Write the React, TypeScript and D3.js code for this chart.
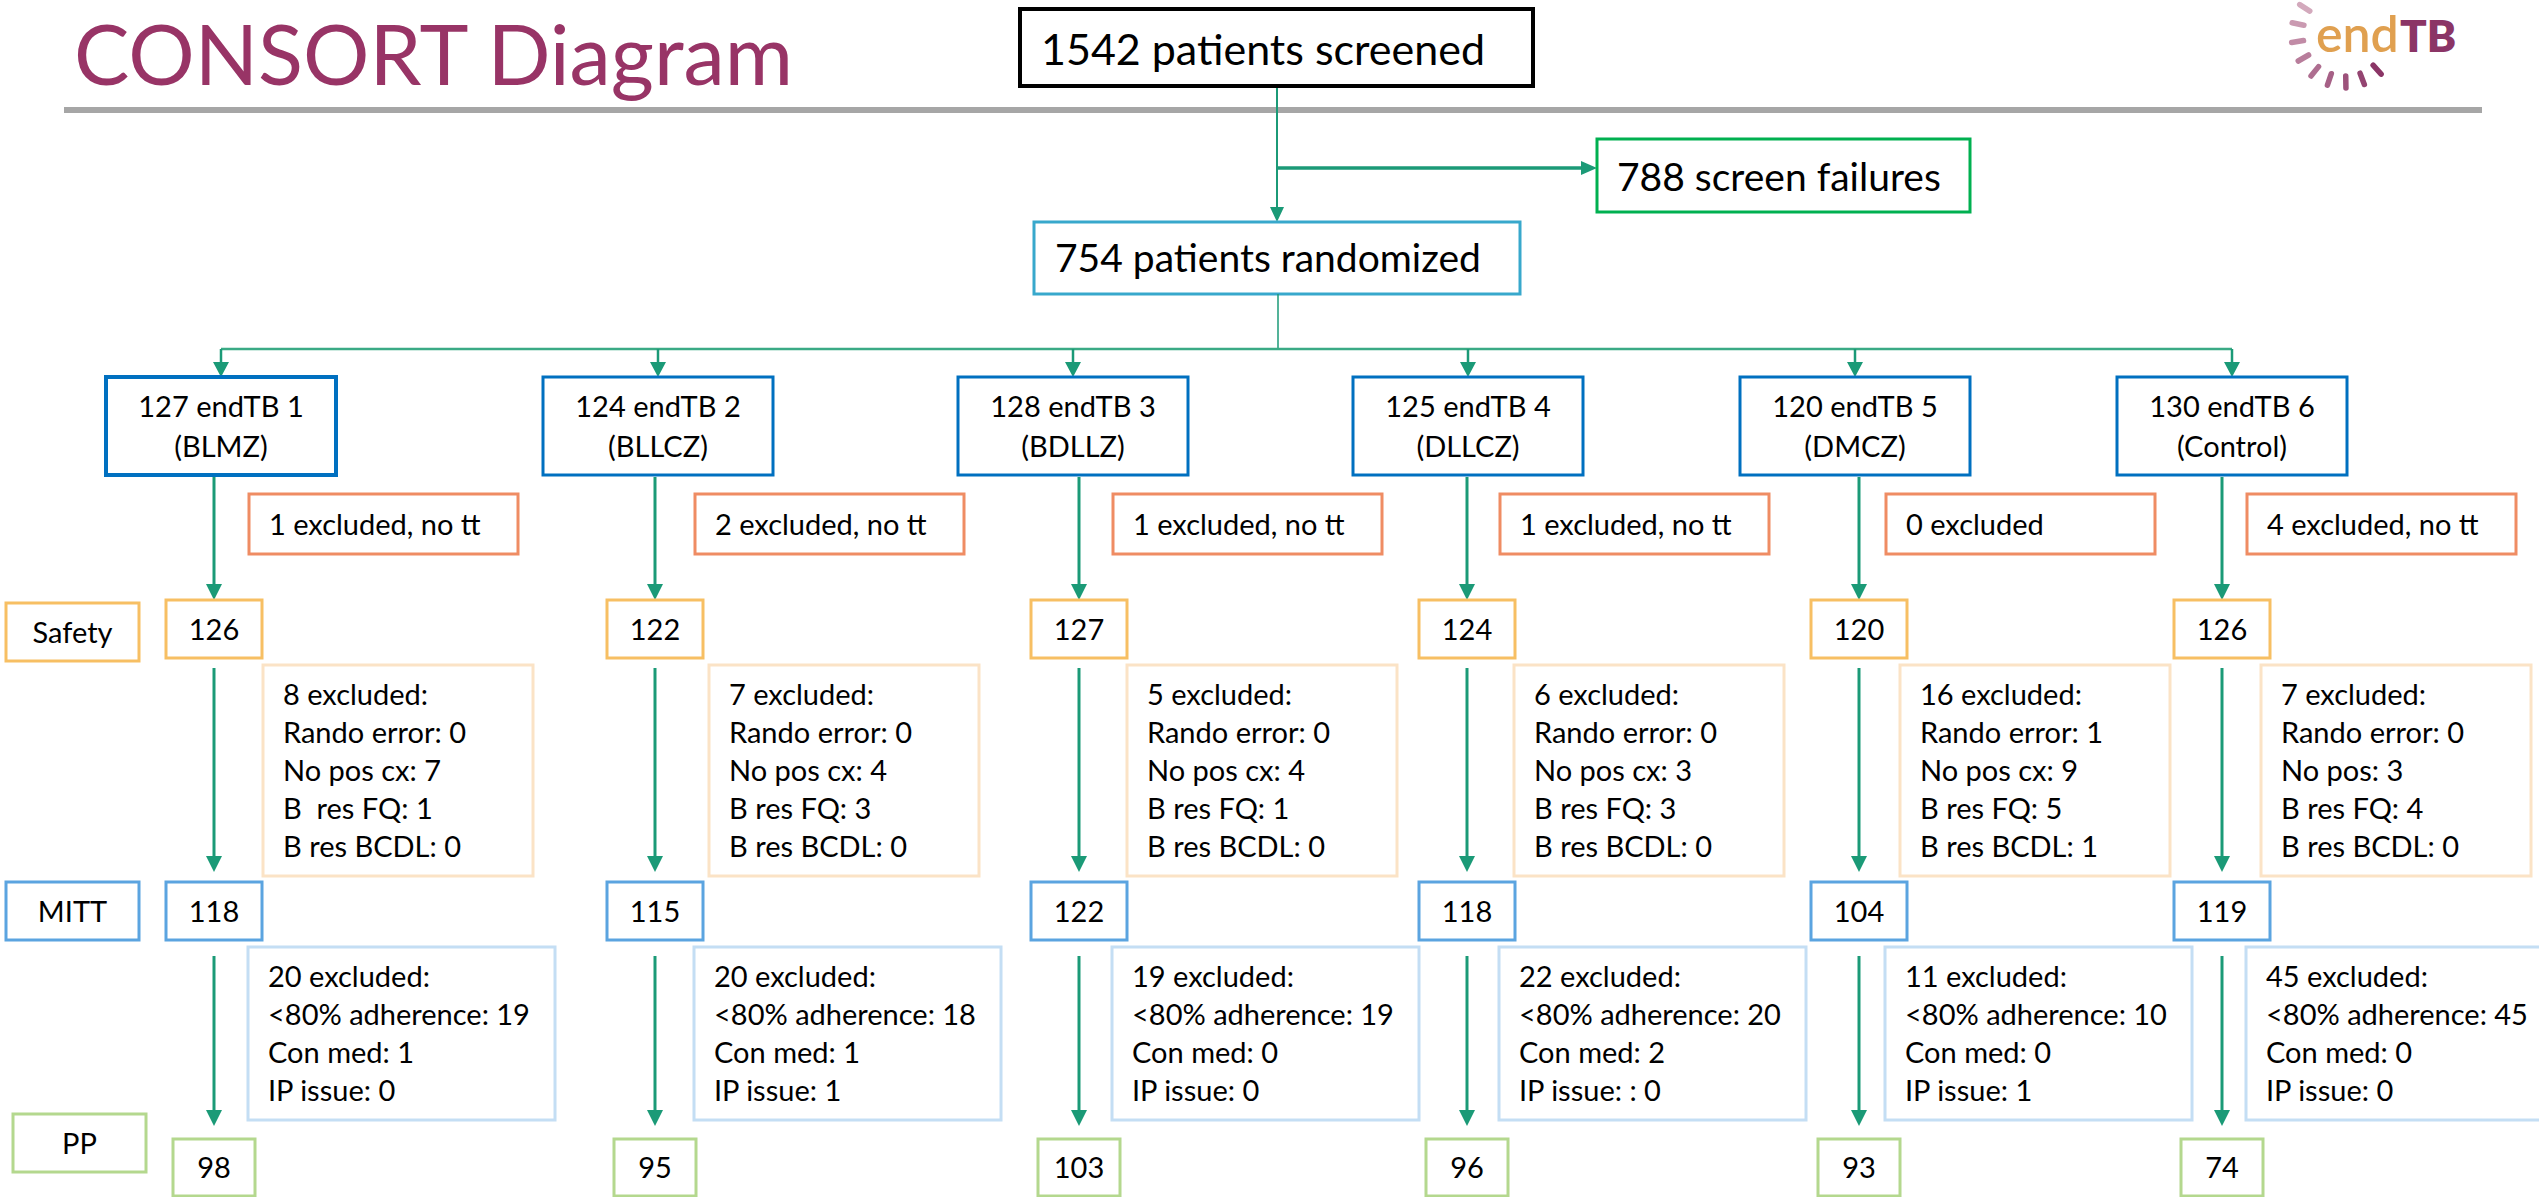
import * as d3 from "d3";
import React from "react";

// ---- data ----
const arms = ["127 endTB 1", "124 endTB 2", "128 endTB 3", "125 endTB 4", "120 endTB 5", "130 endTB 6"];
const regimens = ["(BLMZ)", "(BLLCZ)", "(BDLLZ)", "(DLLCZ)", "(DMCZ)", "(Control)"];
const notTreated = [
  "1 excluded, no tt",
  "2 excluded, no tt",
  "1 excluded, no tt",
  "1 excluded, no tt",
  "0 excluded",
  "4 excluded, no tt",
];
const safetyN = [126, 122, 127, 124, 120, 126];
const safetyExcluded = [
  ["8 excluded:", "Rando error: 0", "No pos cx: 7", "B  res FQ: 1", "B res BCDL: 0"],
  ["7 excluded:", "Rando error: 0", "No pos cx: 4", "B res FQ: 3", "B res BCDL: 0"],
  ["5 excluded:", "Rando error: 0", "No pos cx: 4", "B res FQ: 1", "B res BCDL: 0"],
  ["6 excluded:", "Rando error: 0", "No pos cx: 3", "B res FQ: 3", "B res BCDL: 0"],
  ["16 excluded:", "Rando error: 1", "No pos cx: 9", "B res FQ: 5", "B res BCDL: 1"],
  ["7 excluded:", "Rando error: 0", "No pos: 3", "B res FQ: 4", "B res BCDL: 0"],
];
const mittN = [118, 115, 122, 118, 104, 119];
const mittExcluded = [
  ["20 excluded:", "<80% adherence: 19", "Con med: 1", "IP issue: 0"],
  ["20 excluded:", "<80% adherence: 18", "Con med: 1", "IP issue: 1"],
  ["19 excluded:", "<80% adherence: 19", "Con med: 0", "IP issue: 0"],
  ["22 excluded:", "<80% adherence: 20", "Con med: 2", "IP issue: : 0"],
  ["11 excluded:", "<80% adherence: 10", "Con med: 0", "IP issue: 1"],
  ["45 excluded:", "<80% adherence: 45", "Con med: 0", "IP issue: 0"],
];
const ppN = [98, 95, 103, 96, 93, 74];
const populations = ["Safety", "MITT", "PP"];
const screened = "1542 patients screened";
const screenFailures = "788 screen failures";
const randomized = "754 patients randomized";

// ---- layout ----
const W = 2539;
const H = 1197;
const FONT = "Lato, 'Open Sans', sans-serif";
const GREEN = "#1b9a77";
const idx = d3.range(arms.length);
// column centres of the arm boxes, of the patient-count trunk and of the side notes
const colX = d3.scaleOrdinal<number, number>().domain(idx).range([221, 658, 1073, 1468, 1855, 2232]);
const trunkX = d3.scaleOrdinal<number, number>().domain(idx).range([214, 655, 1079, 1467, 1859, 2222]);
const sideX = d3.scaleOrdinal<number, number>().domain(idx).range([253, 699, 1117, 1504, 1890, 2251]);
const popY = d3.scaleOrdinal<string, number>().domain(populations).range([603, 882, 1114]);

const Arrow = ({ x, y1, y2, w = 3, head = 16 }) => (
  <g>
    <line x1={x} y1={y1} x2={x} y2={y2 - head + 2} stroke={GREEN} strokeWidth={w} />
    <polygon points={`${x - 8},${y2 - head} ${x + 8},${y2 - head} ${x},${y2}`} fill={GREEN} />
  </g>
);

const NumBox = ({ cx, y, w, h, stroke, label }) => (
  <g>
    <rect x={cx - w / 2} y={y} width={w} height={h} fill="white" stroke={stroke} strokeWidth={3} />
    <text x={cx} y={y + h / 2 + 10.5} textAnchor="middle" fontSize={29}>{label}</text>
  </g>
);

const NoteBox = ({ x, y, w, h, stroke, lines }) => (
  <g>
    <rect x={x} y={y} width={w} height={h} fill="white" stroke={stroke} strokeWidth={3} />
    {lines.map((t, i) => (
      <text key={i} x={x + 20} y={y + 40 + i * 38} fontSize={29} style={{ whiteSpace: "pre" }}>{t}</text>
    ))}
  </g>
);

const Logo = () => {
  const angles = [48, 69, 89, 109, 129, 150, 171, 192, 213];
  const col = d3.scaleLinear<string>().domain([48, 213]).range(["#8b3566", "#d3a9bc"]);
  const cx = 2345, cy = 34, r0 = 42, r1 = 54;
  return (
    <g>
      {angles.map((a) => {
        const t = (a * Math.PI) / 180;
        return (
          <line key={a} x1={cx + r0 * Math.cos(t)} y1={cy + r0 * Math.sin(t)}
            x2={cx + r1 * Math.cos(t)} y2={cy + r1 * Math.sin(t)}
            stroke={col(a)} strokeWidth={5.5} strokeLinecap="round" />
        );
      })}
      <text x={2316} y={52} fontSize={50} fill="#e0a050" fontWeight={600}>end</text>
      <text x={2400} y={52} fontSize={44} fill="#8b3566" fontWeight={800}>TB</text>
    </g>
  );
};

export default function App() {
  const busY = 349;
  return (
    <>
      <style>{`body{margin:0;overflow:hidden}`}</style>
      <svg width={W} height={H} style={{ position: "absolute", left: 0, top: 0, fontFamily: FONT }}>
        <rect width={W} height={H} fill="white" />

        {/* header */}
        <text x={74} y={85} fontSize={83} fill="#983466">CONSORT Diagram</text>
        <rect x={64} y={107} width={2418} height={6} fill="#a6a6a6" />
        <Logo />

        {/* screening */}
        <line x1={1277} y1={86} x2={1277} y2={210} stroke={GREEN} strokeWidth={2} />
        <polygon points={`1270,207 1284,207 1277,222`} fill={GREEN} />
        <line x1={1277} y1={168} x2={1584} y2={168} stroke={GREEN} strokeWidth={3.5} />
        <polygon points={`1581,161 1581,175 1597,168`} fill={GREEN} />

        <rect x={1020} y={9} width={513} height={77} fill="white" stroke="#000" strokeWidth={4} />
        <text x={1041} y={65} fontSize={43}>{screened}</text>

        <rect x={1597} y={139} width={373} height={73} fill="white" stroke="#00b050" strokeWidth={3} />
        <text x={1617} y={191} fontSize={39}>{screenFailures}</text>

        <rect x={1034} y={222} width={486} height={72} fill="white" stroke="#38a8cc" strokeWidth={3} />
        <text x={1055} y={272} fontSize={39}>{randomized}</text>

        {/* randomisation bus */}
        <line x1={1278} y1={294} x2={1278} y2={busY} stroke={GREEN} strokeWidth={1.5} />
        <line x1={colX(0)} y1={busY} x2={colX(5)} y2={busY} stroke="#3aaa85" strokeWidth={2.5} />

        {/* population labels */}
        {populations.map((p, k) => {
          const stroke = ["#f7bf63", "#5ba4e0", "#b4d88e"][k];
          const x = k === 2 ? 13 : 6;
          const y = popY(p);
          return (
            <g key={p}>
              <rect x={x} y={y} width={133} height={58} fill="white" stroke={stroke} strokeWidth={3} />
              <text x={x + 66.5} y={y + 39.5} textAnchor="middle" fontSize={29}>{p}</text>
            </g>
          );
        })}

        {idx.map((i) => {
          const cx = colX(i);
          const tx = trunkX(i);
          const sx = sideX(i);
          return (
            <g key={i}>
              <Arrow x={cx} y1={busY} y2={377} w={2.5} head={15} />
              <rect x={cx - 115} y={377} width={230} height={98} fill="white" stroke="#0070c0"
                strokeWidth={i === 0 ? 4 : 3} />
              <text x={cx} y={417} textAnchor="middle" fontSize={29}>{arms[i]}</text>
              <text x={cx} y={457} textAnchor="middle" fontSize={29}>{regimens[i]}</text>

              <Arrow x={tx} y1={477} y2={600} />
              <NoteBox x={sx - 4} y={494} w={269} h={60} stroke="#ef8c63" lines={[]} />
              <text x={sx + 16} y={535} fontSize={29}>{notTreated[i]}</text>

              <NumBox cx={tx} y={600} w={96} h={58} stroke="#f7bf63" label={safetyN[i]} />

              <Arrow x={tx} y1={668} y2={872} />
              <NoteBox x={sx + 10} y={665} w={270} h={211} stroke="#fbe3c6" lines={safetyExcluded[i]} />

              <NumBox cx={tx} y={882} w={96} h={58} stroke="#5ba4e0" label={mittN[i]} />

              <Arrow x={tx} y1={956} y2={1126} />
              <NoteBox x={sx - 5} y={947} w={307} h={173} stroke="#c4def4" lines={mittExcluded[i]} />

              <NumBox cx={tx} y={1139} w={82} h={57} stroke="#b4d88e" label={ppN[i]} />
            </g>
          );
        })}
      </svg>
    </>
  );
}
